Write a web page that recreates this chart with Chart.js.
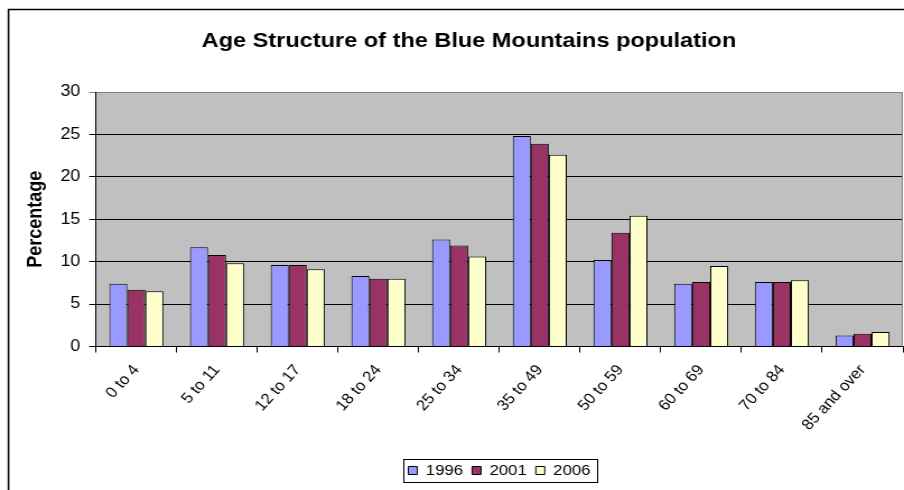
<!DOCTYPE html>
<html>
<head>
<meta charset="utf-8">
<script src="https://cdn.jsdelivr.net/npm/chart.js@4"></script>
<style>
  html, body { margin: 0; padding: 0; background: #fff; overflow: hidden; }
  #chart { display: block; }
</style>
</head>
<body>
<!-- drawn narrow, shown wide: the source picture is stretched sideways -->
<canvas id="chart" width="807" height="490" style="width:904px;height:490px"></canvas>
<script>
// ── Data ─────────────────────────────────────────────────────
const TITLE = 'Age Structure of the Blue Mountains population';
const AGE_GROUPS = ['0 to 4', '5 to 11', '12 to 17', '18 to 24', '25 to 34',
    '35 to 49', '50 to 59', '60 to 69', '70 to 84', '85 and over'];
const YEARS = ['1996', '2001', '2006'];
const PCT_1996 = [7.4, 11.7, 9.6, 8.3, 12.6, 24.8, 10.2, 7.4, 7.6, 1.3];
const PCT_2001 = [6.7, 10.8, 9.6, 8.0, 11.9, 23.9, 13.4, 7.6, 7.6, 1.5];
const PCT_2006 = [6.5, 9.8, 9.1, 8.0, 10.6, 22.6, 15.4, 9.5, 7.8, 1.7];
const Y_TICKS = [0, 5, 10, 15, 20, 25, 30];

const COLORS = ['#9999ff', '#993366', '#ffffcc'];
const FONT = '"Liberation Sans", Arial, sans-serif';
const STRETCH = 904 / 807;

// ── Frame, plot background, title, legend box ────────────────
const frame = {
    id: 'frame',
    beforeDraw(chart) {
        const { ctx, chartArea: a } = chart;
        ctx.save();
        ctx.fillStyle = '#fff';
        ctx.fillRect(0, 0, chart.width, chart.height);
        ctx.fillStyle = '#c0c0c0';
        ctx.fillRect(a.left, a.top, a.right - a.left, a.bottom - a.top);
        ctx.strokeStyle = '#000';
        ctx.lineWidth = 1.5;
        ctx.strokeRect(8.5 / STRETCH, 9.5, chart.width + 40, chart.height + 40);
        ctx.restore();
    },
    beforeDatasetsDraw(chart) {
        const { ctx, chartArea: a } = chart;
        ctx.save();
        ctx.strokeStyle = '#808080';
        ctx.lineWidth = 1;
        ctx.beginPath();
        ctx.moveTo(a.right - 0.5, a.top);
        ctx.lineTo(a.right - 0.5, a.bottom);
        ctx.stroke();
        ctx.restore();
    },
    afterDraw(chart) {
        const { ctx } = chart;
        ctx.save();
        ctx.fillStyle = '#000';
        ctx.font = 'bold 21px ' + FONT;
        ctx.textAlign = 'center';
        ctx.textBaseline = 'middle';
        ctx.fillText(TITLE, 469 / STRETCH, 41);

        const boxes = chart.legend.legendHitBoxes;
        if (boxes && boxes.length) {
            const left = Math.min(...boxes.map(b => b.left)) - 5;
            const right = Math.max(...boxes.map(b => b.left + b.width)) + 5;
            const top = Math.min(...boxes.map(b => b.top)) - 4;
            const bottom = Math.max(...boxes.map(b => b.top + b.height)) + 4;
            ctx.strokeStyle = '#000';
            ctx.lineWidth = 1;
            ctx.strokeRect(Math.round(left) + 0.5, Math.round(top) + 0.5,
                Math.round(right - left), Math.round(bottom - top));
        }
        ctx.restore();
    },
};

// ── Chart ────────────────────────────────────────────────────
const series = [PCT_1996, PCT_2001, PCT_2006];

new Chart(document.getElementById('chart'), {
    type: 'bar',
    data: {
        labels: AGE_GROUPS,
        datasets: YEARS.map((y, i) => ({
            label: y,
            data: series[i],
            backgroundColor: COLORS[i],
            borderColor: '#000',
            borderWidth: 1,
            categoryPercentage: 0.67,
            barPercentage: 1.0,
        })),
    },
    options: {
        responsive: false,
        animation: false,
        events: [],
        layout: { padding: { top: 92, left: 0, right: 1, bottom: 2 } },
        scales: {
            x: {
                offset: true,
                grid: {
                    offset: true,
                    drawOnChartArea: false,
                    color: '#000',
                    tickLength: 6,
                },
                border: { color: '#000', width: 1 },
                ticks: {
                    autoSkip: false,
                    minRotation: 50,
                    maxRotation: 50,
                    padding: 9,
                    color: '#000',
                    font: { family: FONT, size: 15 },
                },
                afterFit: s => { s.height = 108.5; },
            },
            y: {
                min: 0,
                max: 30,
                afterBuildTicks: s => { s.ticks = Y_TICKS.map(v => ({ value: v })); },
                grid: {
                    color: ctx => ctx.tick && ctx.tick.value === 30 ? '#808080' : '#000',
                    tickLength: 6,
                },
                border: { color: '#000', width: 1 },
                ticks: {
                    padding: 8,
                    color: '#000',
                    font: { family: FONT, size: 16 },
                },
                title: {
                    display: true,
                    text: 'Percentage',
                    color: '#000',
                    padding: { top: 21, bottom: 0 },
                    font: { family: FONT, size: 18, weight: 'bold' },
                },
                afterFit: s => { s.width = 96 / STRETCH; },
            },
        },
        plugins: {
            title: { display: false },
            tooltip: { enabled: false },
            legend: {
                position: 'bottom',
                fullSize: false,
                labels: {
                    color: '#000',
                    boxWidth: 8,
                    boxHeight: 8,
                    padding: 8,
                    font: { family: FONT, size: 15 },
                },
            },
        },
    },
    plugins: [frame],
});
</script>
</body>
</html>
